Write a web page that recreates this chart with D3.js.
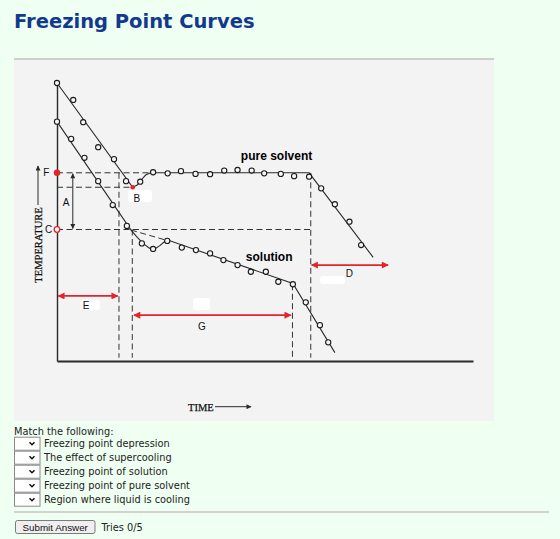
<!DOCTYPE html>
<html>
<head>
<meta charset="utf-8">
<script src="https://cdn.jsdelivr.net/npm/d3@7"></script>
<style>
  body { margin: 0; background: #effff1; }
  svg { display: block; }
</style>
</head>
<body>
<script>
// chart values, in chart units (time 0-100, temperature 0-100)
var pureDots = [[0,100],[3.9,93.9],[6.3,85.9],[9.9,76.9],[13.7,72.6],[16.6,64.7],[20.0,64.5],[23.1,67.9],
  [26.6,67.5],[29.8,68.3],[33.3,67.3],[36.8,67.2],[40.2,68.5],[43.4,68.7],[46.8,68.5],[49.8,67.5],
  [53.8,67.3],[57.0,66.5],[60.6,66.3],[63.5,62.1],[66.8,56.4],[70.3,50.1],[73.1,41.7]];
var pureLine = [[0,100],[18.2,62.5],[19.3,63.3],[20.3,65.2],[21.3,66.9],[22.5,67.7],[60.6,67.7],[76,37.3]];

var solDots = [[0,86.1],[3.4,79.9],[6.6,73.1],[9.9,64.7],[13.4,56.1],[16.8,48.6],[20.4,42.3],[23.1,40.3],
  [26.5,43.2],[30.0,40.8],[33.4,39.9],[36.8,38.7],[40.0,36.3],[43.4,34.5],[46.6,32.1],[50.2,32.1],
  [53.2,28.5],[56.7,27.6],[59.8,21.1],[63.2,12.9],[65.2,6.7]];
var solLine = [[0,86.1],[17.8,47.1],[19.3,44.5],[20.7,42.3],[22.2,40.6],[23.6,40.4],[24.8,41.6],
  [25.8,42.9],[26.8,43.4],[56.7,27.9],[66.8,3.0]];

var fpPure = 67.7, fpSolution = 47.3, supercoolLow = 62.5;

// dashed guide lines [t1, T1, t2, T2]
var guides = [[0,fpPure,22.5,fpPure],[0,supercoolLow,18.2,supercoolLow],[0,fpSolution,61,fpSolution],
  [14.9,fpPure,14.9,1.2],[18.1,fpSolution,18.1,1.2],[56.6,27.6,56.6,1.2],[61.0,fpPure,61.0,1.2],
  [17.8,47.1,26.6,43.3]];

// red spans
var spanNames = ["E","G","D"];
var spanStart = [0.3,18.5,61.2];
var spanEnd = [14.6,56.2,79.6];
var spanLevel = [23.4,16.5,34.5];
var spanLabelAt = [[7.0,20.0],[34.8,12.6],[70.3,31.5]];

var letterNames = ["A","B","F","C"];
var letterAt = [[2.2,57.2],[19.2,58.6],[-2.6,67.8],[-2.0,47.5]];

var matchItems = ["Freezing point depression","The effect of supercooling","Freezing point of solution",
  "Freezing point of pure solvent","Region where liquid is cooling"];

var red = "#e3242b", ink = "#2a2a2a";

var svg = d3.select("body").append("svg")
  .attr("width", 560)
  .attr("height", 539);

// title and rules
svg.append("text")
  .attr("x", 14).attr("y", 28)
  .style("font-family", "DejaVu Sans").style("font-weight", "bold").style("font-size", "19.5px")
  .style("fill", "#113a8f")
  .text("Freezing Point Curves");

svg.append("rect").attr("x", 14).attr("y", 60).attr("width", 480).attr("height", 361).style("fill", "#f3f3f3");
svg.append("line").attr("x1", 14).attr("x2", 494).attr("y1", 59).attr("y2", 59)
  .style("stroke", "#cfcfcf").style("stroke-width", 2);

// white paper patches behind some labels
[[80,300,20,10],[128,190,24,12],[320,276,25,8],[193,298,17,12]].forEach(function (p) {
  svg.append("rect").attr("x", p[0]).attr("y", p[1]).attr("width", p[2]).attr("height", p[3])
    .attr("rx", 3).style("fill", "#ffffff");
});

var x = d3.scaleLinear().domain([0, 100]).range([57, 473]);
var y = d3.scaleLinear().domain([0, 100]).range([361, 83]);

var defs = svg.append("defs");
function marker(id, color, len, wid) {
  defs.append("marker").attr("id", id)
    .attr("viewBox", "0 0 10 10").attr("refX", 9).attr("refY", 5)
    .attr("markerUnits", "userSpaceOnUse")
    .attr("markerWidth", len).attr("markerHeight", wid)
    .attr("orient", "auto-start-reverse")
    .append("path").attr("d", "M0,0L10,5L0,10z").style("fill", color);
}
marker("redhead", red, 8, 7);
marker("blackhead", ink, 6, 5);

// axes
svg.append("g")
  .attr("transform", "translate(0," + y(0) + ")")
  .call(d3.axisBottom(x).tickValues([]).tickSizeOuter(0))
  .select(".domain").style("stroke", ink).style("stroke-width", 2);
svg.append("g")
  .attr("transform", "translate(" + x(0) + ",0)")
  .call(d3.axisLeft(y).tickValues([]).tickSizeOuter(0))
  .select(".domain").style("stroke", ink).style("stroke-width", 1.4);

// guides
svg.append("g").selectAll("line").data(guides).enter().append("line")
  .attr("x1", function (d) { return x(d[0]); })
  .attr("y1", function (d) { return y(d[1]); })
  .attr("x2", function (d) { return x(d[2]); })
  .attr("y2", function (d) { return y(d[3]); })
  .style("stroke", "#333").style("stroke-width", 1).style("stroke-dasharray", "6,3.5");

// curves
var line = d3.line().x(function (d) { return x(d[0]); }).y(function (d) { return y(d[1]); });
[pureLine, solLine].forEach(function (l) {
  svg.append("path").datum(l).attr("d", line)
    .style("fill", "none").style("stroke", ink).style("stroke-width", 1.1);
});
[pureDots, solDots].forEach(function (dots) {
  svg.append("g").selectAll("circle").data(dots).enter().append("circle")
    .attr("cx", function (d) { return x(d[0]); })
    .attr("cy", function (d) { return y(d[1]); })
    .attr("r", 2.6)
    .style("fill", "#f6f6f6").style("stroke", "#1a1a1a").style("stroke-width", 1.1);
});

svg.append("text").attr("x", x(44.2)).attr("y", y(72.3))
  .style("font-family", "Liberation Sans").style("font-weight", "bold").style("font-size", "12px")
  .text("pure solvent");
svg.append("text").attr("x", x(45.4)).attr("y", y(36.1))
  .style("font-family", "Liberation Sans").style("font-weight", "bold").style("font-size", "12px")
  .text("solution");

// red points F, C, B
svg.append("circle").attr("cx", x(0)).attr("cy", y(fpPure)).attr("r", 3.2).style("fill", red);
svg.append("circle").attr("cx", x(0)).attr("cy", y(fpSolution)).attr("r", 2.8)
  .style("fill", "#fff").style("stroke", red).style("stroke-width", 1.3);
svg.append("circle").attr("cx", x(18.2)).attr("cy", y(supercoolLow)).attr("r", 2.3).style("fill", red);

// A arrow
svg.append("line")
  .attr("x1", x(3.8)).attr("x2", x(3.8))
  .attr("y1", y(fpPure) + 1).attr("y2", y(fpSolution) - 1)
  .attr("marker-start", "url(#blackhead)").attr("marker-end", "url(#blackhead)")
  .style("stroke", ink).style("stroke-width", 1);

// red spans
svg.append("g").selectAll("line").data(spanNames).enter().append("line")
  .attr("x1", function (d, i) { return x(spanStart[i]); })
  .attr("x2", function (d, i) { return x(spanEnd[i]); })
  .attr("y1", function (d, i) { return y(spanLevel[i]); })
  .attr("y2", function (d, i) { return y(spanLevel[i]); })
  .attr("marker-start", "url(#redhead)").attr("marker-end", "url(#redhead)")
  .style("stroke", red).style("stroke-width", 1.8);

var labels = letterNames.concat(spanNames);
var labelAt = letterAt.concat(spanLabelAt);
svg.append("g").selectAll("text").data(labels).enter().append("text")
  .attr("x", function (d, i) { return x(labelAt[i][0]); })
  .attr("y", function (d, i) { return y(labelAt[i][1]); })
  .attr("text-anchor", "middle").attr("dy", "0.36em")
  .style("font-family", "Liberation Sans").style("font-size", "10px").style("fill", "#111")
  .text(function (d) { return d; });

// axis titles with arrows
svg.append("text")
  .attr("transform", "translate(41.5,245) rotate(-90)")
  .attr("text-anchor", "middle")
  .style("font-family", "Liberation Serif").style("font-size", "10.5px").style("fill", "#111")
  .style("stroke", "#111").style("stroke-width", 0.25)
  .text("TEMPERATURE");
svg.append("line").attr("x1", 38).attr("x2", 38).attr("y1", 205).attr("y2", 166)
  .attr("marker-end", "url(#blackhead)").style("stroke", ink).style("stroke-width", 1);
svg.append("text")
  .attr("x", 188).attr("y", 410.5)
  .style("font-family", "Liberation Serif").style("font-size", "10.5px").style("fill", "#111")
  .style("stroke", "#111").style("stroke-width", 0.25)
  .text("TIME");
svg.append("line").attr("x1", 215).attr("x2", 251).attr("y1", 406.7).attr("y2", 406.7)
  .attr("marker-end", "url(#blackhead)").style("stroke", ink).style("stroke-width", 1);

// matching form
var formFont = "DejaVu Sans", formSize = "9.8px";
svg.append("text").attr("x", 14).attr("y", 434.5)
  .style("font-family", formFont).style("font-size", formSize).style("fill", "#222")
  .text("Match the following:");

var rows = svg.append("g").selectAll("g").data(matchItems).enter().append("g")
  .attr("transform", function (d, i) { return "translate(0," + (443.7 + 14 * i) + ")"; });
rows.append("rect").attr("x", 14.5).attr("y", -6.5).attr("width", 25.5).attr("height", 13)
  .style("fill", "#fff").style("stroke", "#8a8a8a").style("stroke-width", 1);
rows.append("path").attr("d", "M29.5,-1.5L32,1L34.5,-1.5")
  .style("fill", "none").style("stroke", "#111").style("stroke-width", 1.5);
rows.append("text").attr("x", 44).attr("y", 3.5)
  .style("font-family", formFont).style("font-size", formSize).style("fill", "#222")
  .text(function (d) { return d; });

svg.append("line").attr("x1", 14).attr("x2", 549).attr("y1", 512).attr("y2", 512)
  .style("stroke", "#d2d2d2").style("stroke-width", 2);

svg.append("rect").attr("x", 15.5).attr("y", 520.5).attr("width", 79.5).attr("height", 13).attr("rx", 2)
  .style("fill", "#efefef").style("stroke", "#7a7a7a").style("stroke-width", 1);
svg.append("text").attr("x", 55.2).attr("y", 530.6).attr("text-anchor", "middle")
  .style("font-family", "Liberation Sans").style("font-size", "9.8px").style("fill", "#111")
  .text("Submit Answer");
svg.append("text").attr("x", 101.5).attr("y", 530.8)
  .style("font-family", formFont).style("font-size", formSize).style("fill", "#222")
  .text("Tries 0/5");
</script>
</body>
</html>
